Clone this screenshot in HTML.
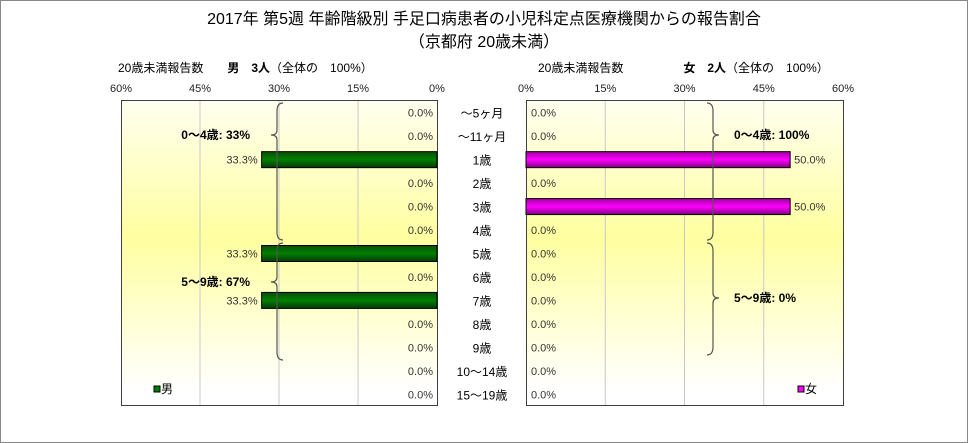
<!DOCTYPE html>
<html><head><meta charset="utf-8">
<style>
body{margin:0;background:#fff;}
svg{display:block;font-family:"Liberation Sans","Noto Sans CJK JP",sans-serif;}
</style></head><body>
<svg id="c" width="968" height="443" viewBox="0 0 968 443">
<defs>
<linearGradient id="bg" x1="0" y1="0" x2="0" y2="1">
<stop offset="0" stop-color="#fffff0"/><stop offset="0.45" stop-color="#ffffa0"/><stop offset="0.95" stop-color="#ffffff"/>
</linearGradient>
<linearGradient id="gm" x1="0" y1="0" x2="0" y2="1">
<stop offset="0" stop-color="#0a4d0a"/><stop offset="0.5" stop-color="#008000"/><stop offset="1" stop-color="#063806"/>
</linearGradient>
<linearGradient id="gf" x1="0" y1="0" x2="0" y2="1">
<stop offset="0" stop-color="#a000a0"/><stop offset="0.5" stop-color="#ff00ff"/><stop offset="1" stop-color="#800080"/>
</linearGradient>
</defs>
<rect x="0.5" y="0.5" width="967" height="442" fill="#fff" stroke="#888"/>
<text x="484" y="24" text-anchor="middle" font-size="16">2017年 第5週 年齢階級別 手足口病患者の小児科定点医療機関からの報告割合</text>
<text x="484" y="47" text-anchor="middle" font-size="16">（京都府 20歳未満）</text>
<text x="118" y="72" font-size="12">20歳未満報告数　　<tspan font-weight="bold">男　3人</tspan>（全体の　100%）</text>
<text x="538" y="72" font-size="12">20歳未満報告数　　　　　<tspan font-weight="bold">女　2人</tspan>（全体の　100%）</text>
<rect x="121.5" y="100.5" width="316" height="305" fill="url(#bg)" stroke="#404040"/>
<rect x="526.5" y="100.5" width="317" height="305" fill="url(#bg)" stroke="#404040"/>
<g id="g"></g>
</svg>
<script>
const categories=["～5ヶ月","～11ヶ月","1歳","2歳","3歳","4歳","5歳","6歳","7歳","8歳","9歳","10～14歳","15～19歳"];
const maleValues=[0,0,33.3,0,0,0,33.3,0,33.3,0,0,0,0];
const femaleValues=[0,0,50,0,50,0,0,0,0,0,0,0,0];
const tickValues=[0,15,30,45,60];
const groupLabels={male:["0～4歳: 33%","5～9歳: 67%"],female:["0～4歳: 100%","5～9歳: 0%"]};
const NS="http://www.w3.org/2000/svg";
const g=document.getElementById('g');
const top0=101,plotH=305,rowH=plotH/categories.length;
function xm(v){return 437-v/60*316;}
function xf(v){return 526+v/60*317;}
function yc(i){return top0+rowH*(i+0.5);}
function el(t,a,txt){const e=document.createElementNS(NS,t);for(const k in a)e.setAttribute(k,a[k]);if(txt!==undefined)e.textContent=txt;g.appendChild(e);return e;}
tickValues.forEach(v=>{
  if(v>0&&v<60){
    let l=el('line',{x1:xm(v),x2:xm(v),y1:101,y2:405,stroke:'#c8c8c8'});
    
    l=el('line',{x1:xf(v),x2:xf(v),y1:101,y2:405,stroke:'#c8c8c8'});
    
  }
  let t=el('text',{x:xm(v),y:92,'text-anchor':'middle','font-size':11,fill:'#222'},v+'%');
  
  t=el('text',{x:xf(v),y:92,'text-anchor':'middle','font-size':11,fill:'#222'},v+'%');
  
});
categories.forEach((c,i)=>{
  const y=yc(i);
  let t=el('text',{x:482,y:y+5,'text-anchor':'middle','font-size':12},c);
  
  const mv=maleValues[i],fv=femaleValues[i];
  if(mv>0){
    const b=el('rect',{x:xm(mv),y:y-8,width:437-xm(mv),height:16,fill:'url(#gm)',stroke:'#000'});
    
  }
  if(fv>0){
    const b=el('rect',{x:526,y:y-8,width:xf(fv)-526,height:16,fill:'url(#gf)',stroke:'#000'});
    
  }
  t=el('text',{x:mv>0?xm(mv)-4:433,y:y+4,'text-anchor':'end','font-size':11,fill:'#333'},mv.toFixed(1)+'%');
  
  t=el('text',{x:fv>0?xf(fv)+4:531,y:y+4,'font-size':11,fill:'#333'},fv.toFixed(1)+'%');
  
});
function brace(x,y1,y2,ym,dir){
  const d=6*dir;
  return `M${x+d},${y1} Q${x},${y1} ${x},${y1+8} L${x},${ym-5} Q${x},${ym} ${x-d},${ym} Q${x},${ym} ${x},${ym+5} L${x},${y2-8} Q${x},${y2} ${x+d},${y2}`;
}
let p=el('path',{d:brace(277,103,240,135,1),fill:'none',stroke:'#555','stroke-width':1.2});

p=el('path',{d:brace(277,243,360,282,1),fill:'none',stroke:'#555','stroke-width':1.2});

p=el('path',{d:brace(713,103,240,135,-1),fill:'none',stroke:'#555','stroke-width':1.2});

p=el('path',{d:brace(713,243,355,298,-1),fill:'none',stroke:'#555','stroke-width':1.2});

let t=el('text',{x:250,y:139,'text-anchor':'end','font-size':12,'font-weight':'bold'},groupLabels.male[0]);

t=el('text',{x:250,y:286,'text-anchor':'end','font-size':12,'font-weight':'bold'},groupLabels.male[1]);

t=el('text',{x:734,y:139,'font-size':12,'font-weight':'bold'},groupLabels.female[0]);

t=el('text',{x:734,y:302,'font-size':12,'font-weight':'bold'},groupLabels.female[1]);

let r=el('rect',{x:154,y:386,width:6,height:6,fill:'#008000',stroke:'#000'});

t=el('text',{x:161,y:393,'font-size':12},'男');

r=el('rect',{x:798,y:386,width:6,height:6,fill:'#ff00ff',stroke:'#000'});

t=el('text',{x:805,y:393,'font-size':12},'女');

</script>
</body></html>
